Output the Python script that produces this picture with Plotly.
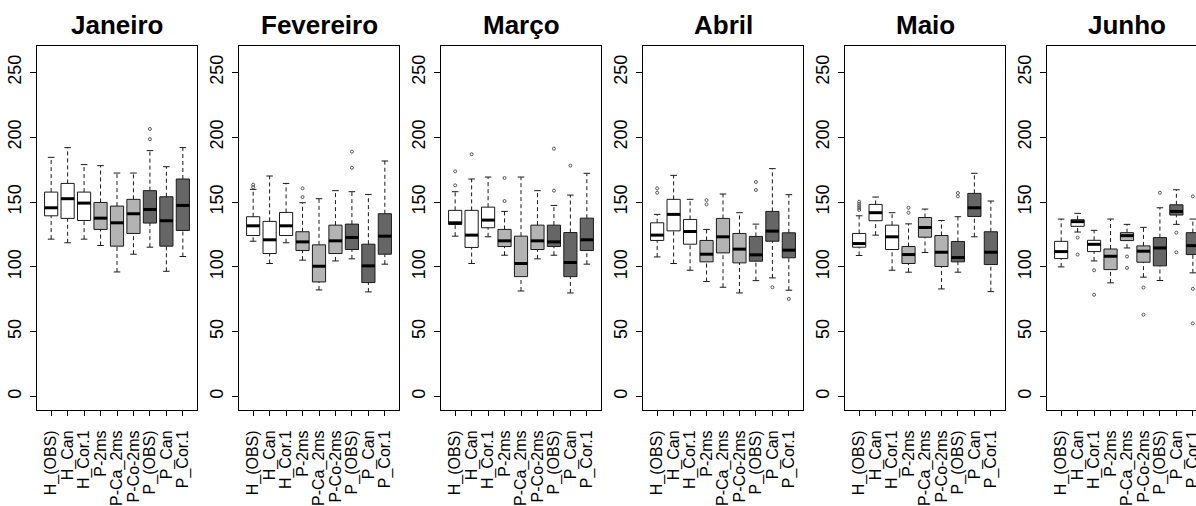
import plotly.graph_objects as go

months = ["Janeiro", "Fevereiro", "Março", "Abril", "Maio", "Junho"]
categories = ["H_(OBS)", "H_Can", "H_Cor.1", "P-2ms", "P-Ca_2ms", "P-Co-2ms",
              "P_(OBS)", "P_Can", "P_Cor.1"]
groups = [0, 0, 0, 1, 1, 1, 2, 2, 2]
y_ticks = [0, 50, 100, 150, 200, 250]

# box statistics, one row per month, one value per category
lower_whisker = [
    [121.4, 118.6, 121.4, 116.5, 96.1, 109.8, 115.2, 96.6, 108.0],
    [119.8, 102.6, 118.6, 105.2, 82.2, 104.6, 106.2, 80.7, 102.1],
    [123.7, 102.6, 123.2, 109.0, 81.4, 106.2, 109.0, 79.9, 102.1],
    [107.7, 102.6, 97.4, 88.7, 84.3, 79.9, 89.4, 91.5, 82.0],
    [108.8, 124.5, 97.4, 95.9, 111.1, 83.0, 95.9, 123.2, 80.9],
    [100.0, 126.9, 104.6, 87.7, 114.6, 92.1, 89.5, 132.8, 95.4],
]
q1 = [
    [139.4, 137.4, 135.8, 128.9, 116.0, 125.8, 133.8, 116.0, 128.1],
    [124.2, 110.3, 124.2, 112.6, 88.4, 110.3, 113.4, 87.9, 109.8],
    [132.7, 115.0, 130.2, 115.7, 92.5, 113.4, 115.7, 92.5, 112.6],
    [120.4, 127.8, 117.5, 103.9, 110.8, 103.1, 104.4, 119.8, 107.0],
    [115.2, 135.6, 113.4, 102.6, 122.9, 100.3, 103.9, 138.9, 101.8],
    [106.4, 131.3, 111.8, 97.9, 120.3, 103.6, 100.8, 140.0, 109.5],
]
median = [
    [145.6, 152.6, 149.2, 137.6, 134.0, 141.0, 144.3, 135.6, 147.4],
    [131.7, 120.9, 131.7, 119.3, 100.5, 120.1, 122.7, 100.8, 123.7],
    [134.0, 124.5, 136.1, 120.1, 102.6, 120.1, 119.3, 103.4, 120.9],
    [124.5, 140.5, 127.3, 109.8, 123.2, 113.7, 109.3, 127.6, 112.9],
    [118.0, 141.8, 123.2, 109.5, 130.4, 111.3, 107.2, 145.6, 111.3],
    [111.8, 134.9, 117.4, 108.2, 124.1, 112.1, 114.6, 142.8, 116.4],
]
q3 = [
    [157.7, 164.4, 157.7, 149.7, 146.9, 152.1, 158.8, 154.1, 167.8],
    [138.7, 135.1, 142.0, 127.1, 117.0, 132.2, 133.0, 117.5, 141.0],
    [143.6, 143.6, 146.1, 128.9, 123.7, 132.2, 132.2, 126.5, 137.6],
    [134.0, 152.1, 136.6, 120.4, 137.4, 125.8, 123.5, 142.8, 126.3],
    [125.8, 148.2, 132.2, 115.7, 138.1, 124.2, 119.6, 156.7, 127.1],
    [119.7, 136.4, 120.5, 113.8, 126.4, 116.2, 122.6, 147.9, 126.4],
]
upper_whisker = [
    [184.5, 192.0, 178.9, 178.1, 172.4, 172.4, 189.7, 177.3, 192.0],
    [159.8, 170.1, 164.4, 149.5, 152.6, 158.8, 158.0, 155.9, 181.7],
    [158.0, 167.8, 169.3, 142.8, 169.3, 158.8, 147.4, 155.4, 172.2],
    [140.5, 170.6, 152.1, 128.9, 156.2, 141.8, 133.0, 175.8, 155.7],
    [139.4, 153.9, 141.8, 133.2, 144.6, 135.8, 138.7, 172.2, 150.8],
    [136.9, 141.3, 128.2, 136.9, 132.8, 130.5, 145.6, 159.5, 136.9],
]
outliers = [
    [[], [], [], [], [], [], [206.4, 198.5], [], []],
    [[163.4, 161.5], [], [], [160.6, 153.9], [], [], [188.9, 176.5], [], []],
    [[173.7, 162.9], [186.9], [], [168.6, 150.8], [], [], [191.2, 158.8], [178.1], []],
    [[160.6, 157.2], [], [], [151.5, 148.2], [], [], [165.5, 159.3], [84.3], [75.3]],
    [[150.3, 148.7, 147.1, 145.5, 143.9], [], [], [145.6, 141.8], [], [], [157.0, 154.4], [], []],
    [[], [122.6, 109.5], [97.4, 78.5], [], [108.0, 99.2], [84.1, 63.1], [157.2],
     [126.4, 111.3], [154.4, 83.1, 56.4]],
]

# ---- styling / layout constants ----
W, H = 1196, 506
fills = ["#ffffff", "#b3b3b3", "#666666"]
line_col = "#1a1a1a"
FONT = "Liberation Sans, Arial, sans-serif"
box_w = 0.8
cap_w = 0.4
frame_left0, frame_step, frame_w = 37.0, 202.0, 160.0
frame_top, frame_bot = 46.0, 410.0
xr = [0.14, 9.86]
yr = [-10.4, 270.4]

fig = go.Figure()
layout = dict(
    width=W, height=H, margin=dict(l=0, r=0, t=0, b=0, autoexpand=False),
    paper_bgcolor="white", plot_bgcolor="white", showlegend=False,
    boxmode="overlay", font=dict(family=FONT, color="black"),
)
annotations = []
positions = list(range(1, len(categories) + 1))

for m, month in enumerate(months):
    ax = "" if m == 0 else str(m + 1)
    xref, yref = "x" + ax, "y" + ax
    left = frame_left0 + frame_step * m
    right = left + frame_w
    x_range = list(xr)
    last = right > W
    if last:
        right_vis = W
        x_range = [xr[0], xr[0] + (xr[1] - xr[0]) * (right_vis - left) / frame_w]
        right = right_vis

    # whiskers (dashed)
    wx, wy = [], []
    for i, p in enumerate(positions):
        wx += [p, p, None, p, p, None]
        wy += [q3[m][i], upper_whisker[m][i], None, lower_whisker[m][i], q1[m][i], None]
    fig.add_trace(go.Scatter(x=wx, y=wy, mode="lines", xaxis=xref, yaxis=yref,
                             line=dict(color=line_col, width=1, dash="4px,3px"),
                             hoverinfo="skip"))
    # boxes
    for g in range(3):
        idx = [i for i in range(len(categories)) if groups[i] == g]
        fig.add_trace(go.Box(
            x=[positions[i] for i in idx],
            q1=[q1[m][i] for i in idx], median=[median[m][i] for i in idx],
            q3=[q3[m][i] for i in idx],
            lowerfence=[q1[m][i] for i in idx], upperfence=[q3[m][i] for i in idx],
            width=box_w, fillcolor=fills[g], line=dict(color=line_col, width=1),
            whiskerwidth=0, xaxis=xref, yaxis=yref, hoverinfo="skip"))
    # medians (thick) and staples
    mx, my, cx, cy = [], [], [], []
    for i, p in enumerate(positions):
        mx += [p - box_w / 2, p + box_w / 2, None]
        my += [median[m][i], median[m][i], None]
        for v in (upper_whisker[m][i], lower_whisker[m][i]):
            cx += [p - cap_w / 2, p + cap_w / 2, None]
            cy += [v, v, None]
    fig.add_trace(go.Scatter(x=mx, y=my, mode="lines", xaxis=xref, yaxis=yref,
                             line=dict(color="black", width=3), hoverinfo="skip"))
    fig.add_trace(go.Scatter(x=cx, y=cy, mode="lines", xaxis=xref, yaxis=yref,
                             line=dict(color=line_col, width=1), hoverinfo="skip"))
    # outliers
    ox, oy = [], []
    for i, p in enumerate(positions):
        for v in outliers[m][i]:
            ox.append(p)
            oy.append(v)
    if ox:
        fig.add_trace(go.Scatter(x=ox, y=oy, mode="markers", xaxis=xref, yaxis=yref,
                                 marker=dict(symbol="circle-open", size=3, color="#555555",
                                             line=dict(width=1)),
                                 hoverinfo="skip"))

    layout["xaxis" + ax] = dict(
        domain=[left / W, right / W], range=x_range, anchor=yref, automargin=False,
        tickmode="array", tickvals=positions, ticktext=categories, tickangle=-90,
        ticks="outside", ticklen=5, tickcolor="black", showline=True, linecolor="black",
        linewidth=1, mirror=True, showgrid=False, zeroline=False,
        ticklabeloverflow="allow",
        tickfont=dict(family=FONT, size=16, color="black"), ticklabelstandoff=8,
    )
    layout["yaxis" + ax] = dict(
        domain=[1 - frame_bot / H, 1 - frame_top / H], range=yr, anchor=xref,
        automargin=False,
        tickmode="array", tickvals=y_ticks, tickangle=-90,
        ticks="outside", ticklen=6, tickcolor="black", showline=True, linecolor="black",
        linewidth=1, mirror=(not last), showgrid=False, zeroline=False,
        ticklabeloverflow="allow",
        tickfont=dict(family=FONT, size=18, color="black"), ticklabelstandoff=2,
    )
    annotations.append(dict(
        text="<b>%s</b>" % month, xref="paper", yref="paper",
        x=(left + frame_w / 2) / W, y=1 - 25 / H, xanchor="center", yanchor="middle",
        showarrow=False, font=dict(family=FONT, size=26, color="black")))

layout["annotations"] = annotations
fig.update_layout(**layout)
fig.write_html("out.html")
